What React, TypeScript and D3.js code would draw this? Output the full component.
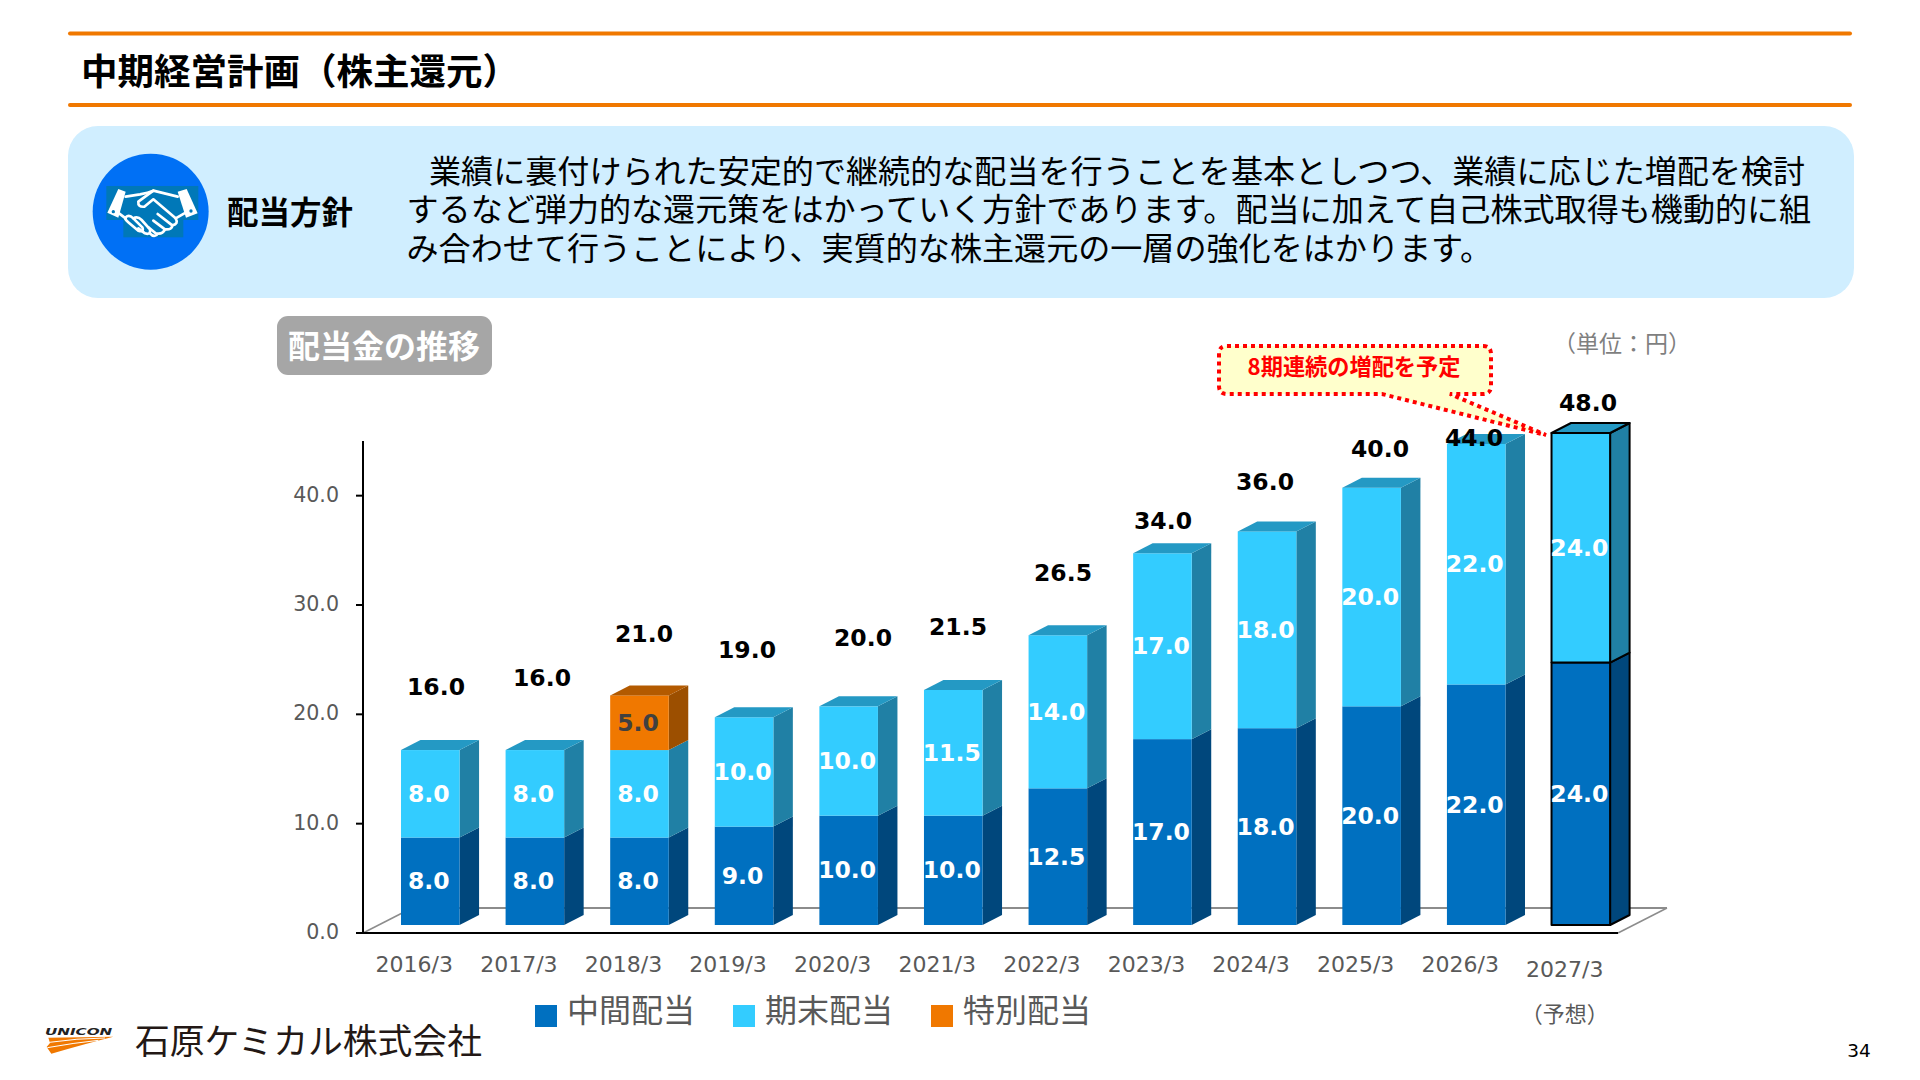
import React from "react";
import * as d3 from "d3";

const categories = ["2016/3","2017/3","2018/3","2019/3","2020/3","2021/3","2022/3","2023/3","2024/3","2025/3","2026/3","2027/3"];
const interimDividend = [8,8,8,9,10,10,12.5,17,18,20,22,24];
const yearEndDividend = [8,8,8,10,10,11.5,14,17,18,20,22,24];
const specialDividend = [0,0,5,0,0,0,0,0,0,0,0,0];
const yTicks = [0,10,20,30,40];
const seriesNames = ["中間配当","期末配当","特別配当"];
const bodyLines = [
  "業績に裏付けられた安定的で継続的な配当を行うことを基本としつつ、業績に応じた増配を検討",
  "するなど弾力的な還元策をはかっていく方針であります。配当に加えて自己株式取得も機動的に組",
  "み合わせて行うことにより、実質的な株主還元の一層の強化をはかります。",
];

// layout of hand-placed total labels, as in the source slide
const totalLabelX = [436,542,644,747,863,958,1063,1163,1265,1380,1474,1588];
const totalLabelY = [687,678,634,650,638,627,573,521,482,449,438,403];

const CJK = "'Noto Sans CJK JP', sans-serif";
const LAT = "'DejaVu Sans', sans-serif";
const GRAY = "#595959";
const ORANGE = "#f07800";
const front = ["#0070c0","#33ccff","#f07800"];
const side = ["#00477c","#2080a5","#9c4f00"];
const topFace = ["#005a9a","#2499c4","#b35a00"];
const DX = 19.5, DY = 10, BASE_LIFT = 8;

const x = d3.scaleBand<string>().domain(categories).range([401, 1610.1]).paddingInner(0.44).paddingOuter(0);
const y = d3.scaleLinear().domain([0,45]).range([933,441]).clamp(true);
const f1 = d3.format(".1f");

const rows = categories.map((c,i)=>({c, a:interimDividend[i], b:yearEndDividend[i], s:specialDividend[i]}));
const stacked = d3.stack<any>().keys(["a","b","s"])(rows);
const pts = (p:number[][]) => p.map(q=>q.join(",")).join(" ");

function Handshake(){
  return (
    <g transform="translate(85,150) scale(0.3333)">
      <circle cx={197} cy={185} r={174} fill="#0070f5"/>
      <rect x={64} y={108} width={276} height={102} fill="#0078b8"/>
      <rect x={115} y={208} width={180} height={54} fill="#0078b8"/>
      <g fill="#fff">
        <polygon points="100,117 122,125 100,203 67,188"/>
        <polygon points="278,125 305,117 338,190 303,203"/>
      </g>
      <g fill="#0078b8"><circle cx={85} cy={185} r={5}/><circle cx={318} cy={183} r={5}/></g>
      <g fill="none" stroke="#fff" strokeWidth={8} strokeLinecap="round" strokeLinejoin="round">
        <path d="M122 140 L165 133 Q190 128 205 122 L278 140"/>
        <path d="M205 122 L160 155 Q158 172 178 170 L205 148 L272 205 Q282 222 262 226 L218 192"/>
        <path d="M262 226 Q262 240 240 238 L205 212"/>
        <path d="M240 238 Q232 255 212 250 L190 232"/>
        <path d="M102 190 L122 205 M298 190 L272 205"/>
        <path d="M122 202 Q132 192 145 205 L172 232 Q178 248 160 242 L128 215 Q118 208 122 202"/>
        <path d="M145 205 Q158 198 170 210 L195 238 Q198 256 180 250 L160 235"/>
        <path d="M195 250 Q205 262 215 255"/>
      </g>
    </g>
  );
}

function Logo(){
  return (
    <g transform="translate(30,1015) scale(0.3333)">
      <path d="M55 68 L250 65 Q170 85 64 116 L50 96 L60 84 Z" fill={ORANGE}/>
      <path d="M58 82 Q140 70 225 69 M52 98 Q130 84 205 76" fill="none" stroke="#fff" strokeWidth={3}/>
      <text x={45} y={59} fontFamily={LAT} fontWeight={700} fontStyle="italic" fontSize={26} fill="#222" textLength={202} lengthAdjust="spacingAndGlyphs">UNICON</text>
    </g>
  );
}

export default function App(){
  const w = x.bandwidth();
  return (
    <svg width={1920} height={1080} viewBox="0 0 1920 1080" style={{position:"absolute",left:0,top:0,background:"#fff"}}>
      <line x1={70} x2={1850} y1={33.5} y2={33.5} stroke={ORANGE} strokeWidth={4} strokeLinecap="round"/>
      <line x1={70} x2={1850} y1={105} y2={105} stroke={ORANGE} strokeWidth={4} strokeLinecap="round"/>
      <text x={81} y={69.5} fontFamily={CJK} fontWeight={700} fontSize={36.5} fill="#000" dominantBaseline="central">中期経営計画（株主還元）</text>

      <rect x={68} y={126} width={1786} height={172} rx={30} fill="#d0eeff"/>
      <Handshake/>
      <text x={227} y={209.5} fontFamily={CJK} fontWeight={700} fontSize={31.5} fill="#000" dominantBaseline="central">配当方針</text>
      {bodyLines.map((t,i)=>(
        <text key={i} x={i===0?429:406.5} y={168.5+i*38.5} fontFamily={CJK} fontSize={32.1} fill="#000" dominantBaseline="central">{t}</text>
      ))}

      <rect x={277} y={316} width={215} height={59} rx={11} fill="#a6a6a6"/>
      <text x={384} y={343.5} textAnchor="middle" fontFamily={CJK} fontWeight={700} fontSize={32} fill="#fff" dominantBaseline="central">配当金の推移</text>
      <text x={1622} y={342} textAnchor="middle" fontFamily={CJK} fontSize={23} fill="#7f7f7f" dominantBaseline="central">（単位：円）</text>

      {/* floor */}
      <polygon points="363,933 412,908 1667,908 1618,933" fill="#fff"/>
      <line x1={412} x2={1667} y1={908} y2={908} stroke="#8c8c8c" strokeWidth={2}/>
      <line x1={363} y1={933} x2={412} y2={908} stroke="#8c8c8c" strokeWidth={1.5}/>
      <line x1={1618} y1={933} x2={1667} y2={908} stroke="#8c8c8c" strokeWidth={1.5}/>

      {/* axes */}
      <line x1={363} x2={363} y1={y(45)} y2={y(0)} stroke="#000" strokeWidth={2}/>
      <line x1={356} x2={1618} y1={y(0)} y2={y(0)} stroke="#000" strokeWidth={2}/>
      {yTicks.map(t=>(
        <g key={t}>
          <line x1={356} x2={363} y1={y(t)} y2={y(t)} stroke="#000" strokeWidth={2}/>
          <text x={339} y={y(t)-1} textAnchor="end" fontFamily={LAT} fontSize={20.6} fill={GRAY} dominantBaseline="central">{f1(t)}</text>
        </g>
      ))}
      {categories.map((c,i)=>{
        const last = i===categories.length-1;
        return (
          <g key={c} fontFamily={LAT} fill={GRAY}>
            <text x={x(c)!+w/2-16} y={last?969.5:964} textAnchor="middle" fontSize={22} dominantBaseline="central">{c}</text>
            {last && <text x={x(c)!+w/2-16} y={1011.5} textAnchor="middle" fontFamily={CJK} fontSize={22} dominantBaseline="central">（予想）</text>}
          </g>
        );
      })}

      {/* bars */}
      {categories.map((c,i)=>{
        const last = i===categories.length-1;
        const x0 = x(c)!, x1 = x0+w;
        const stroke = last ? "#000" : "none";
        const segs = stacked.map((s,k)=>({k,lo:s[i][0],hi:s[i][1]})).filter(s=>s.hi>s.lo);
        const topSeg = segs[segs.length-1];
        const ty = y(topSeg.hi)-BASE_LIFT;
        return (
          <g key={c} stroke={stroke} strokeWidth={last?2:0} strokeLinejoin="round">
            {segs.map(s=>{
              const yl = y(s.lo)-BASE_LIFT, yh = y(s.hi)-BASE_LIFT;
              return (
                <g key={s.k}>
                  <polygon points={pts([[x1,yh],[x1+DX,yh-DY],[x1+DX,yl-DY],[x1,yl]])} fill={side[s.k]}/>
                  <rect x={x0} y={yh} width={w} height={yl-yh} fill={front[s.k]}/>
                </g>
              );
            })}
            <polygon points={pts([[x0,ty],[x0+DX,ty-DY],[x1+DX,ty-DY],[x1,ty]])} fill={topFace[topSeg.k]}/>
            {segs.map(s=>{
              const yl = y(s.lo)-BASE_LIFT, yh = y(s.hi)-BASE_LIFT;
              return (
                <text key={s.k} x={x0+w/2-1.5} y={(yl+yh)/2} textAnchor="middle" fontFamily={LAT} fontWeight={700} fontSize={23.5} stroke="none" fill={s.k===2?"#404040":"#fff"} dominantBaseline="central">{f1(s.hi-s.lo)}</text>
              );
            })}
          </g>
        );
      })}

      {/* callout */}
      <path d="M1227,346 H1483 Q1491,346 1491,354 V386 Q1491,394 1483,394 H1450 L1546,435 L1382,394 H1227 Q1219,394 1219,386 V354 Q1219,346 1227,346 Z"
        fill="#ffffcc" stroke="#ff0000" strokeWidth={4} strokeDasharray="4 4"/>
      <text x={1354} y={364.5} textAnchor="middle" fontFamily={CJK} fontWeight={700} fontSize={22.2} fill="#ff0000" dominantBaseline="central">8期連続の増配を予定</text>

      {/* totals */}
      {categories.map((c,i)=>(
        <text key={c} x={totalLabelX[i]} y={totalLabelY[i]} textAnchor="middle" fontFamily={LAT} fontWeight={700} fontSize={23.5} fill="#000" dominantBaseline="central">
          {f1(interimDividend[i]+yearEndDividend[i]+specialDividend[i])}
        </text>
      ))}

      {/* legend */}
      {seriesNames.map((n,i)=>{
        const sx = [535,733,931][i];
        return (
          <g key={n}>
            <rect x={sx} y={1005} width={22} height={22} fill={front[i]}/>
            <text x={sx+32} y={1007.5} fontFamily={CJK} fontSize={32} fill={GRAY} dominantBaseline="central">{n}</text>
          </g>
        );
      })}

      <Logo/>
      <text x={135} y={1039} fontFamily={CJK} fontSize={34.8} fill="#231815" dominantBaseline="central">石原ケミカル株式会社</text>
      <text x={1859} y={1050} textAnchor="middle" fontFamily={LAT} fontSize={18.5} fill="#000" dominantBaseline="central">34</text>
    </svg>
  );
}
